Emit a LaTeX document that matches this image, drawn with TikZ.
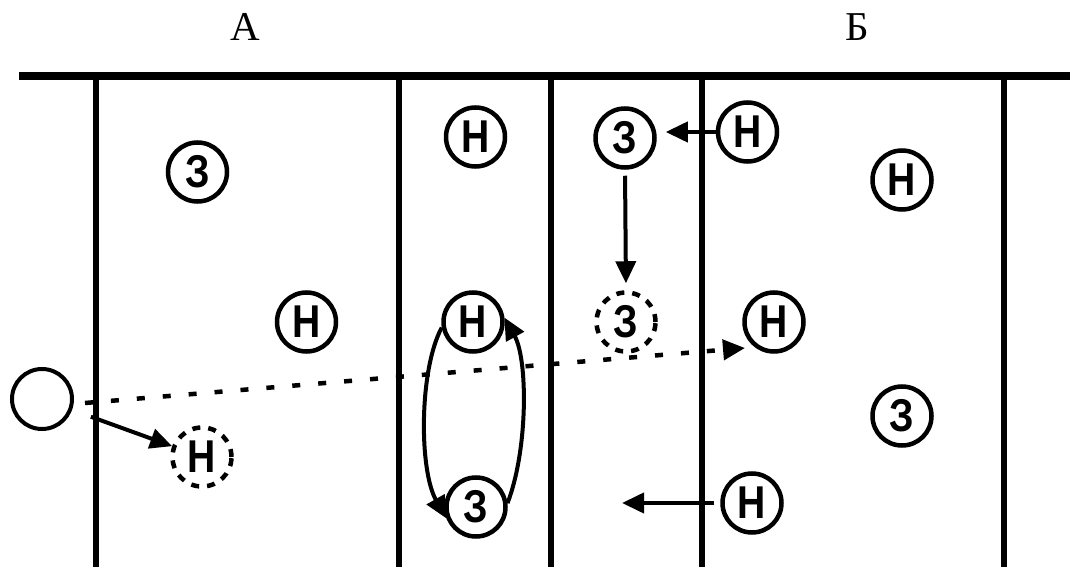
\documentclass[tikz,border=0pt]{standalone}
\usepackage{fontspec}
\setmainfont{Liberation Serif}
\newfontfamily\plf[FakeStretch=0.85]{Liberation Sans Bold}
\usetikzlibrary{arrows.meta}
\begin{document}
\begin{tikzpicture}[x=1bp,y=-1bp,
  player/.style={circle, draw, line width=4.5bp, minimum size=59bp, inner sep=0pt,
    font=\plf\fontsize{46bp}{46bp}\selectfont},
  ghost/.style={player, dash pattern=on 8bp off 8bp},
  ballst/.style={circle, draw, line width=4bp, minimum size=60bp, inner sep=0pt},
  arr/.style={line width=4bp, -{Triangle[length=22bp,width=20bp]}},
  dotline/.style={line width=4.5bp, dash pattern=on 8bp off 18bp, -{Triangle[length=22bp,width=20bp]}},
  field/.style={line width=5.5bp},
  topline/.style={line width=7.5bp},
  teamlabel/.style={font=\fontsize{41bp}{41bp}\selectfont, inner sep=0pt}]
\useasboundingbox (0,0) rectangle (1070,567);
% field lines
\draw[topline] (19,76) -- (1070,76);
\foreach \x in {96,399,551,702,1004} \draw[field] (\x,76) -- (\x,567);
% labels
\node[teamlabel] (la) at (245,27) {А};
\node[teamlabel] (lb) at (857,27) {Б};
% players
\node[player] (z1) at (197.5,172) {З};
\node[player] (n1) at (306.5,322) {Н};
\node[player] (n2) at (475.5,137) {Н};
\node[player] (n3) at (473,322) {Н};
\node[player] (z3) at (476,507) {З};
\node[player] (z2) at (625,138) {З};
\node[player] (n4) at (747.5,132) {Н};
\node[player] (n5) at (902,180) {Н};
\node[ghost]  (dz) at (626,322) {З};
\node[player] (n6) at (774,322) {Н};
\node[player] (z4) at (902,416) {З};
\node[player] (n7) at (752,503) {Н};
\node[ghost]  (dh) at (202,457) {Н};
\node[ballst] (ball) at (42,399) {};
% connectors
\coordinate (d2) at (745,348);
\coordinate (e1) at (622,503);
\draw[dotline] ([xshift=11bp,yshift=-4bp]ball.east) -- (d2);
\draw[arr, shorten <=20bp] (ball) -- (dh);
\draw[arr, shorten >=9bp] (n4.west) -- (n4.west -| z2.east);
\draw[arr, shorten <=6bp, shorten >=7bp] (z2.south) -- (dz.north);
\draw[arr, shorten <=6bp] (n7.west) -- (e1);
\draw[arr] (n3.190) .. controls (419,370) and (419,470) .. (z3.201);
\draw[arr] (z3.7) .. controls (528,450) and (528,360) .. (n3.8);
\end{tikzpicture}
\end{document}
